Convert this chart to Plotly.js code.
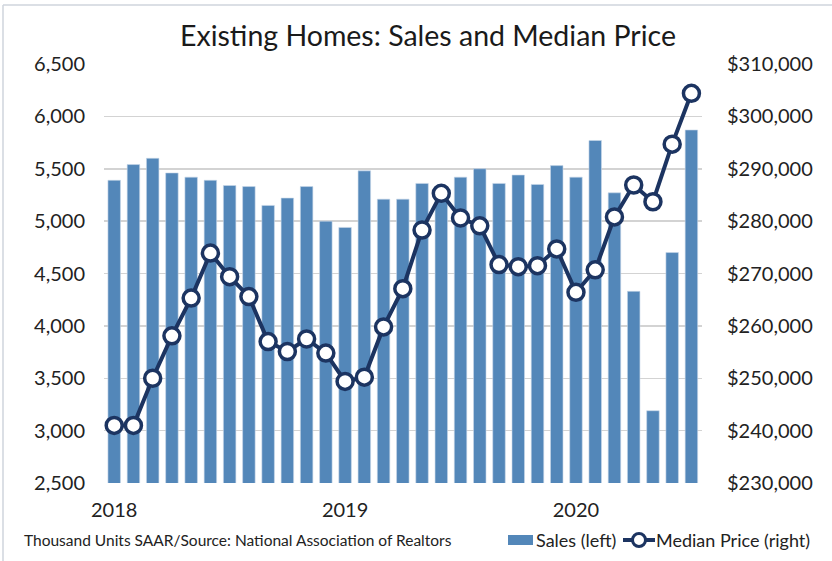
<!DOCTYPE html>
<html>
<head>
<meta charset="utf-8">
<script src="https://cdn.plot.ly/plotly-3.0.1.min.js"></script>
<style>html,body{margin:0;padding:0;background:#fff;}#chart{width:832px;height:561px;}</style>
</head>
<body>
<div id="chart"></div>
<script>
var months = ['Jan 2018','Feb 2018','Mar 2018','Apr 2018','May 2018','Jun 2018','Jul 2018','Aug 2018','Sep 2018','Oct 2018','Nov 2018','Dec 2018',
              'Jan 2019','Feb 2019','Mar 2019','Apr 2019','May 2019','Jun 2019','Jul 2019','Aug 2019','Sep 2019','Oct 2019','Nov 2019','Dec 2019',
              'Jan 2020','Feb 2020','Mar 2020','Apr 2020','May 2020','Jun 2020','Jul 2020'];
var sales = [5390,5540,5600,5460,5420,5390,5340,5330,5150,5220,5330,5000,
             4940,5480,5210,5210,5360,5300,5420,5500,5360,5440,5350,5530,
             5420,5770,5270,4330,3190,4700,5870];
var medianPrice = [241000,241000,250000,258100,265300,273900,269400,265600,257000,255100,257500,254800,
                   249400,250200,259800,267100,278300,285300,280600,279100,271700,271300,271500,274700,
                   266400,270700,280800,286900,283700,294700,304400];
var yearTicks = ['Jan 2018','Jan 2019','Jan 2020'];
var yearLabels = ['2018','2019','2020'];
var seriesNames = ['Sales (left)', 'Median Price (right)'];
var titleText = 'Existing Homes: Sales and Median Price';
var sourceText = 'Thousand Units SAAR/Source: National Association of Realtors';

var FONT = 'Lato, "Open Sans", sans-serif';
var navy = '#1c3461';
var barBlue = '#5387b9';

// plot-area geometry (pixels) used to place the decorations
var L = 104, R = 702, T = 64, B = 483;
function px(x) { return (x - L) / (R - L); }
function py(y) { return (B - y) / (B - T); }

var traces = [
  {
    type: 'bar', x: months, y: sales, name: seriesNames[0],
    marker: {color: barBlue, line: {color: '#c9d9ea', width: 0.6}},
    yaxis: 'y'
  },
  {
    type: 'scatter', mode: 'lines+markers', x: months, y: medianPrice, name: seriesNames[1],
    line: {color: navy, width: 4},
    marker: {symbol: 'circle', size: 16, color: '#ffffff', line: {color: navy, width: 3.5}},
    yaxis: 'y2'
  }
];

var layout = {
  width: 832, height: 561,
  margin: {l: L, r: 832 - R, t: T, b: 561 - B, autoexpand: false},
  paper_bgcolor: '#ffffff', plot_bgcolor: '#ffffff',
  font: {family: FONT, color: '#222222', size: 20},
  title: {text: titleText, font: {family: FONT, size: 28.5, color: '#1a1a1a'},
          x: 428/832, xanchor: 'center', xref: 'container', y: 1 - 36/561, yanchor: 'middle', yref: 'container'},
  bargap: 0.35,
  showlegend: false,
  xaxis: {
    type: 'category', range: [-0.53, 30.55],
    tickmode: 'array', tickvals: yearTicks, ticktext: yearLabels,
    showgrid: false, zeroline: false, showline: false, ticks: '',
    tickfont: {family: FONT, size: 20, color: '#222'}, ticklabelstandoff: 13, automargin: false
  },
  yaxis: {
    range: [2500, 6500], dtick: 500, tick0: 2500, tickformat: ',d',
    showgrid: true, gridcolor: '#d3d3d3', gridwidth: 1.5, zeroline: false, showline: false,
    ticks: '', ticklabelstandoff: 18, automargin: false,
    tickfont: {family: FONT, size: 20, color: '#222'}
  },
  yaxis2: {
    overlaying: 'y', side: 'right', range: [230000, 310000], dtick: 10000, tick0: 230000,
    tickformat: ',d', tickprefix: '$', automargin: false,
    showgrid: false, zeroline: false, showline: false, ticks: '', ticklabelstandoff: 24,
    tickfont: {family: FONT, size: 20, color: '#222'}
  },
  annotations: [
    {text: sourceText, xref: 'paper', yref: 'paper', x: px(22), y: py(540),
     xanchor: 'left', yanchor: 'middle', showarrow: false,
     font: {family: FONT, size: 15.5, color: '#222'}},
    {text: seriesNames[0], xref: 'paper', yref: 'paper', x: px(534), y: py(540),
     xanchor: 'left', yanchor: 'middle', showarrow: false,
     font: {family: FONT, size: 18, color: '#222'}},
    {text: seriesNames[1], xref: 'paper', yref: 'paper', x: px(654), y: py(540),
     xanchor: 'left', yanchor: 'middle', showarrow: false,
     font: {family: FONT, size: 18, color: '#222'}}
  ],
  shapes: [
    // frame
    {type: 'line', xref: 'paper', yref: 'paper', x0: px(3), x1: px(832), y0: py(5), y1: py(5),
     line: {color: '#cfd5dc', width: 1.5}},
    {type: 'line', xref: 'paper', yref: 'paper', x0: px(3), x1: px(3), y0: py(5), y1: py(561),
     line: {color: '#cfd5dc', width: 1.5}},
    // legend key: sales
    {type: 'rect', xref: 'paper', yref: 'paper', x0: px(508), x1: px(533), y0: py(535), y1: py(545),
     fillcolor: barBlue, line: {width: 0}},
    // legend key: median price
    {type: 'line', xref: 'paper', yref: 'paper', x0: px(623), x1: px(655), y0: py(540), y1: py(540),
     line: {color: navy, width: 4}},
    {type: 'circle', xref: 'paper', yref: 'paper', x0: px(632.5), x1: px(645.5), y0: py(546.5), y1: py(533.5),
     fillcolor: '#ffffff', line: {color: navy, width: 3}}
  ]
};

Plotly.newPlot('chart', traces, layout, {displayModeBar: false, staticPlot: true});
</script>
</body>
</html>
